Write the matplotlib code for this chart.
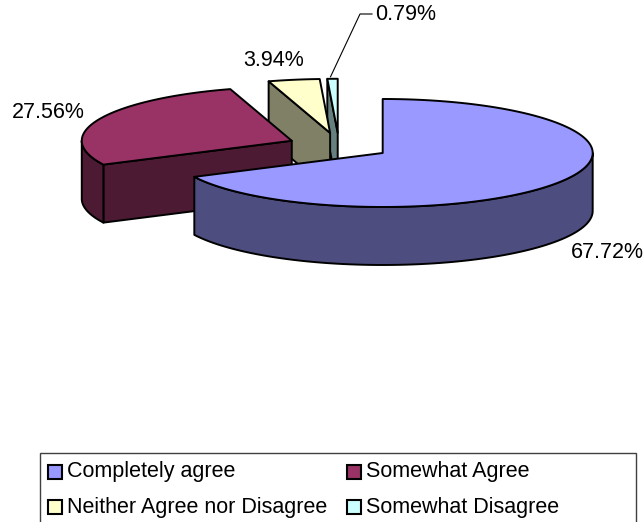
import numpy as np
import matplotlib.pyplot as plt
from matplotlib.patches import Polygon, Rectangle

# survey answers, share in percent
labels = ['Completely agree', 'Somewhat Agree', 'Neither Agree nor Disagree', 'Somewhat Disagree']
values = [67.72, 27.56, 3.94, 0.79]
pct_text = ['67.72%', '27.56%', '3.94%', '0.79%']

top_colors = ['#9999FF', '#993366', '#FFFFCC', '#CCFFFF']
side_colors = ['#4D4D80', '#4D1A33', '#808066', '#668080']

plt.rcParams['font.family'] = ['Liberation Sans', 'DejaVu Sans']
FS = 15.5

# 3d pie geometry, in pixels
cx, cy = 339, 146
a, b, h = 210, 54, 58
explode = 0.245

fig = plt.figure(figsize=(6.44, 5.22), dpi=100)
ax = fig.add_axes([0, 0, 1, 1])
ax.set_xlim(0, 644)
ax.set_ylim(522, 0)
ax.axis('off')

fracs = np.array(values) / np.sum(values)
ends = np.cumsum(fracs) * 360
starts = ends - fracs * 360


def pt(c, th, z=0):
    t = np.radians(th)
    return c[0] + a * np.sin(t), c[1] - b * np.cos(t) + z


slices = []
for i in range(len(values)):
    mid = (starts[i] + ends[i]) / 2
    m = np.radians(mid)
    c = (cx + explode * a * np.sin(m), cy - explode * b * np.cos(m))
    slices.append((c[1], c[0], i, c))

lw = 1.4
for _, _, i, c in sorted(slices):
    s, e = starts[i], ends[i]
    # radial cut faces that face the viewer
    for th, sign in ((s, -1), (e, 1)):
        t = np.radians(th)
        ny = -np.sin(t) * sign  # y-up component of face normal
        if ny < -1e-6:
            p1 = pt(c, th)
            poly = [c, p1, (p1[0], p1[1] + h), (c[0], c[1] + h)]
            ax.add_patch(Polygon(poly, closed=True, fc=side_colors[i], ec='black', lw=lw, joinstyle='round'))
    # outer wall, front half only
    lo, hi = max(s, 90), min(e, 270)
    if hi > lo:
        th = np.linspace(lo, hi, 80)
        top = [pt(c, t) for t in th]
        bot = [pt(c, t, h) for t in th[::-1]]
        ax.add_patch(Polygon(top + bot, closed=True, fc=side_colors[i], ec='black', lw=lw, joinstyle='round'))
    # top face
    th = np.linspace(s, e, max(int((e - s) * 2), 4))
    poly = [c] + [pt(c, t) for t in th]
    ax.add_patch(Polygon(poly, closed=True, fc=top_colors[i], ec='black', lw=lw, joinstyle='round'))

# data labels
ax.text(571, 253, pct_text[0], fontsize=FS, ha='left', va='center')
ax.text(12, 112, pct_text[1], fontsize=FS, ha='left', va='center')
ax.text(243, 60, pct_text[2], fontsize=FS, ha='left', va='center')
ax.text(375, 14, pct_text[3], fontsize=FS, ha='left', va='center')
c3 = slices[3][3]
rim = pt(c3, (starts[3] + ends[3]) / 2)
ax.plot([rim[0] - 2, 360, 372], [rim[1] - 2, 14, 14], color='black', lw=0.8)

# legend
ax.add_patch(Rectangle((40, 453), 596, 70, fc='white', ec='#404040', lw=1))
rows = [472, 507]
cols = [48, 347]
for i, lab in enumerate(labels):
    x0 = cols[i % 2]
    y0 = rows[i // 2]
    ax.add_patch(Rectangle((x0, y0 - 7), 14, 14, fc=top_colors[i], ec='black', lw=1.5))
    ax.text(x0 + 19, y0, lab, fontsize=FS, ha='left', va='center')

fig.savefig('out.png', dpi=100)
